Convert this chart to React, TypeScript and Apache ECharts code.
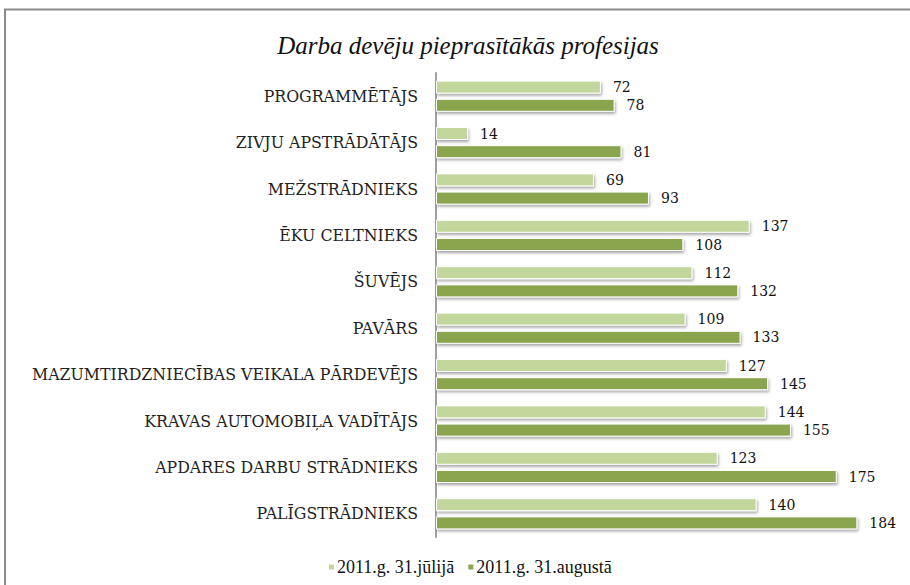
import React, { useEffect, useRef } from "react";
import * as echarts from "echarts";

const categories = [
  "PROGRAMMĒTĀJS",
  "ZIVJU APSTRĀDĀTĀJS",
  "MEŽSTRĀDNIEKS",
  "ĒKU CELTNIEKS",
  "ŠUVĒJS",
  "PAVĀRS",
  "MAZUMTIRDZNIECĪBAS VEIKALA PĀRDEVĒJS",
  "KRAVAS AUTOMOBIĻA VADĪTĀJS",
  "APDARES DARBU STRĀDNIEKS",
  "PALĪGSTRĀDNIEKS",
];
const julyValues = [72, 14, 69, 137, 112, 109, 127, 144, 123, 140];
const augustValues = [78, 81, 93, 108, 132, 133, 145, 155, 175, 184];
const seriesNames = ["2011.g. 31.jūlijā", "2011.g. 31.augustā"];
const titleText = "Darba devēju pieprasītākās profesijas";

const LIGHT = "#C3D69B";
const DARK = "#8BA54F";

export default function App() {
  const ref = useRef<HTMLDivElement>(null);
  useEffect(() => {
    if (!ref.current) return;
    const chart = echarts.init(ref.current, null, { renderer: "svg" });
    const barStyle = (color: string) => ({
      color,
      borderColor: "#ffffff",
      borderWidth: 1,
      shadowColor: "rgba(0,0,0,0.35)",
      shadowBlur: 3,
      shadowOffsetX: 1,
      shadowOffsetY: 2,
    });
    const valueLabel = {
      show: true,
      position: "right" as const,
      distance: 12,
      color: "#111",
      fontFamily: "DejaVu Serif",
      fontSize: 14,
    };
    chart.setOption({
      animation: false,
      backgroundColor: "#ffffff",
      title: {
        text: titleText,
        left: 463,
        textAlign: "center",
        top: 28,
        textStyle: {
          fontFamily: "Liberation Serif",
          fontStyle: "italic",
          fontWeight: "normal",
          fontSize: 25,
          color: "#111",
        },
      },
      graphic: [
        {
          type: "rect",
          shape: { x: 5, y: 9.5, width: 930, height: 600 },
          style: { fill: "none", stroke: "#8a8a8a", lineWidth: 2 },
          silent: true,
        },
      ],
      legend: {
        bottom: 4,
        left: 322,
        itemWidth: 7,
        itemHeight: 7,
        itemGap: 12,
        icon: "rect",
        textStyle: {
          fontFamily: "Liberation Serif",
          fontSize: 18,
          color: "#111",
          padding: [0, 0, 0, -3],
        },
        data: seriesNames,
      },
      grid: {
        left: 436,
        right: 16,
        top: 73,
        height: 464,
        containLabel: false,
      },
      xAxis: {
        type: "value",
        min: 0,
        max: 200,
        show: false,
      },
      yAxis: {
        type: "category",
        data: categories,
        inverse: true,
        axisLine: { show: true, lineStyle: { color: "#a0a0a0", width: 2 } },
        axisTick: { show: false },
        axisLabel: {
          margin: 18,
          fontFamily: "DejaVu Serif",
          fontSize: 15.8,
          color: "#222",
        },
      },
      series: [
        {
          name: seriesNames[0],
          type: "bar",
          data: julyValues,
          barWidth: 13,
          barGap: "40%",
          itemStyle: barStyle(LIGHT),
          label: valueLabel,
        },
        {
          name: seriesNames[1],
          type: "bar",
          data: augustValues,
          barWidth: 13,
          barGap: "40%",
          itemStyle: barStyle(DARK),
          label: valueLabel,
        },
      ],
    });
    return () => chart.dispose();
  }, []);
  return (
    <div
      ref={ref}
      style={{ position: "fixed", left: 0, top: 0, width: 910, height: 585 }}
    />
  );
}
